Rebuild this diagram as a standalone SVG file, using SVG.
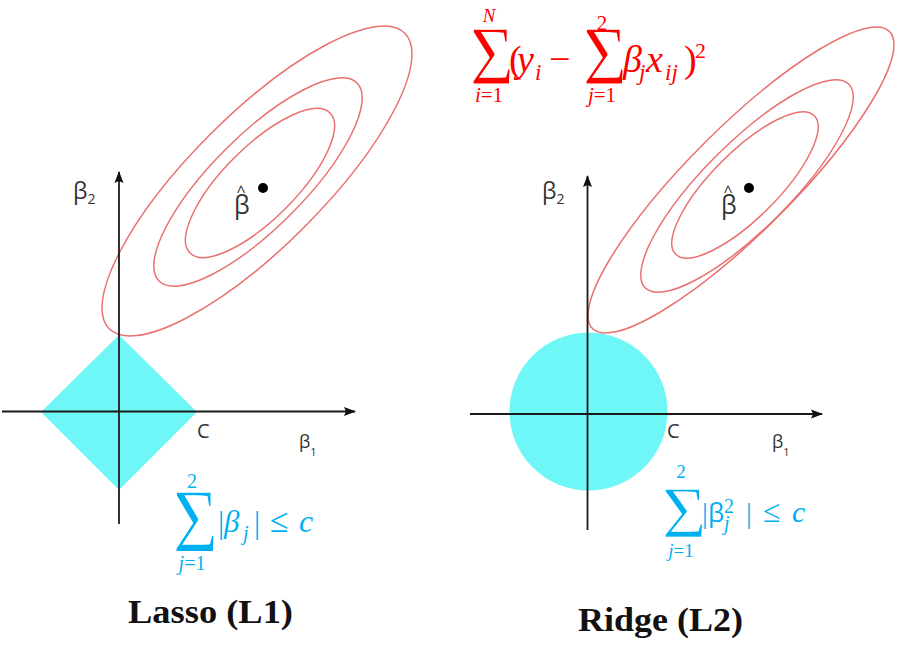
<svg xmlns="http://www.w3.org/2000/svg" width="904" height="667" viewBox="0 0 904 667">
<defs>
<marker id="arr" markerUnits="userSpaceOnUse" markerWidth="12" markerHeight="10" refX="11" refY="5" orient="auto">
<path d="M0,0.5 L12,5 L0,9.5 L2,5 Z" fill="#111"/>
</marker>
<style>
.axis{stroke:#1a1a1a;stroke-width:1.8;fill:none}
.ell{stroke:#ea7070;stroke-width:1.5;fill:none}
.reg{fill:#6ff7f7}
.lab{font-family:"Open Sans","Noto Sans","DejaVu Sans",sans-serif;fill:#333}
.red{font-family:"Liberation Serif","DejaVu Serif",serif;fill:#ff0000}
.blue{font-family:"Liberation Serif","DejaVu Serif",serif;fill:#00b0f0}
.it{font-style:italic}
.sig{stroke:#fff;stroke-width:1.3}
.title{font-family:"Liberation Serif","DejaVu Serif",serif;font-weight:bold;fill:#111}
</style>
</defs>
<rect width="904" height="667" fill="#fff"/>

<g id="lasso">
<polygon class="reg" points="119,335 197,412 119,490 41,412"/>
<g id="lasso-contours">
<ellipse class="ell" cx="257" cy="181" rx="209" ry="66" transform="rotate(-45 257 181)"/>
<ellipse class="ell" cx="258" cy="182" rx="140" ry="46" transform="rotate(-45 258 182)"/>
<ellipse class="ell" cx="260" cy="183" rx="99" ry="36" transform="rotate(-45 260 183)"/>
<circle cx="263" cy="188" r="5" fill="#000"/>
</g>
<g id="lasso-axes">
<line class="axis" x1="2" y1="411.5" x2="355" y2="411.5" marker-end="url(#arr)"/>
<line class="axis" x1="119" y1="524" x2="119" y2="172" marker-end="url(#arr)"/>
</g>
<text class="lab" x="73" y="199" font-size="23">β<tspan font-size="14" dy="5">2</tspan></text>
<text class="lab" x="299" y="448" font-size="18">β<tspan font-size="11" dy="8">1</tspan></text>
<text class="lab" x="197" y="438" font-size="20">C</text>
<text class="lab" x="241" y="197" font-size="16" text-anchor="middle">^</text>
<text class="lab" x="234" y="214" font-size="25">β</text>
<g id="lasso-formula" class="blue">
<text class="sig" transform="translate(173,552) scale(0.85,1)" font-size="91">Σ</text>
<text x="192" y="488" font-size="20" text-anchor="middle">2</text>
<text x="192" y="570" font-size="20" text-anchor="middle"><tspan class="it">j</tspan>=1</text>
<text x="218" y="533" font-size="31">|</text>
<text class="it" x="224" y="532" font-size="31">β</text>
<text class="it" x="243" y="540" font-size="20">j</text>
<text x="254" y="533" font-size="31">|</text>
<text x="270" y="532" font-size="34">≤</text>
<text class="it" x="299" y="532" font-size="32">c</text>
</g>
<text class="title" x="128" y="623" font-size="34" textLength="165" lengthAdjust="spacingAndGlyphs">Lasso (L1)</text>
</g>

<g id="ridge">
<circle class="reg" cx="588.5" cy="411.5" r="79"/>
<g id="ridge-contours">
<ellipse class="ell" cx="741" cy="180" rx="210" ry="52" transform="rotate(-45 741 180)"/>
<ellipse class="ell" cx="747" cy="186" rx="144" ry="43" transform="rotate(-45 747 186)"/>
<ellipse class="ell" cx="745" cy="185" rx="98" ry="33" transform="rotate(-45 745 185)"/>
<circle cx="749" cy="188" r="5" fill="#000"/>
</g>
<g id="ridge-axes">
<line class="axis" x1="470" y1="414" x2="822" y2="414" marker-end="url(#arr)"/>
<line class="axis" x1="587.5" y1="530" x2="587.5" y2="176" marker-end="url(#arr)"/>
</g>
<text class="lab" x="542" y="199" font-size="23">β<tspan font-size="14" dy="5">2</tspan></text>
<text class="lab" x="772" y="448" font-size="18">β<tspan font-size="11" dy="8">1</tspan></text>
<text class="lab" x="667" y="438" font-size="20">C</text>
<text class="lab" x="728" y="197" font-size="16" text-anchor="middle">^</text>
<text class="lab" x="721" y="214" font-size="25">β</text>
<g id="ridge-formula" class="blue">
<text class="sig" transform="translate(662,538) scale(1.02,1)" font-size="75">Σ</text>
<text x="681" y="478" font-size="19" text-anchor="middle">2</text>
<text x="681" y="557" font-size="19" text-anchor="middle"><tspan class="it">j</tspan>=1</text>
<text x="702" y="523" font-size="29">|</text>
<text x="708" y="522" font-size="26" font-family="Open Sans, sans-serif">β</text>
<text x="724" y="513" font-size="20">2</text>
<text class="it" x="724" y="530" font-size="20">j</text>
<text x="746" y="523" font-size="29">|</text>
<text x="763" y="522" font-size="32">≤</text>
<text class="it" x="792" y="522" font-size="30">c</text>
</g>
<text class="title" x="578" y="631" font-size="34" textLength="165" lengthAdjust="spacingAndGlyphs">Ridge (L2)</text>
</g>

<g id="loss-formula" class="red">
<text class="sig" transform="translate(470,85) scale(0.9,1)" font-size="84">Σ</text>
<text class="it" x="489" y="22" font-size="19" text-anchor="middle">N</text>
<text x="489" y="102" font-size="21" text-anchor="middle"><tspan class="it">i</tspan>=1</text>
<text x="509" y="72" font-size="38">(</text>
<text class="it" x="517" y="72" font-size="38">y</text>
<text class="it" x="535" y="80" font-size="23">i</text>
<text x="549" y="72" font-size="38">−</text>
<text class="sig" transform="translate(583,85) scale(0.9,1)" font-size="84">Σ</text>
<text x="602" y="30" font-size="21" text-anchor="middle">2</text>
<text x="602" y="102" font-size="21" text-anchor="middle"><tspan class="it">j</tspan>=1</text>
<text class="it" x="623" y="72" font-size="38">β</text>
<text class="it" x="639" y="80" font-size="23">j</text>
<text class="it" x="646" y="72" font-size="38">x</text>
<text class="it" x="665" y="80" font-size="23">ij</text>
<text x="684" y="72" font-size="38">)</text>
<text x="695" y="58" font-size="22">2</text>
</g>
</svg>
